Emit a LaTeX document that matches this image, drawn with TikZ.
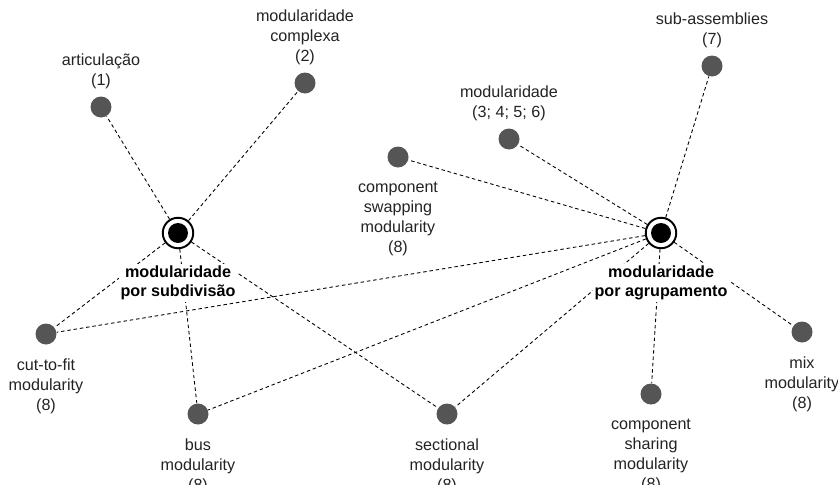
\documentclass[tikz,border=0pt]{standalone}
\usepackage{fontspec}
\setmainfont{Liberation Sans}
\usepackage{tikz}
\usetikzlibrary{positioning}
\definecolor{dotgray}{RGB}{85,85,85}
\definecolor{txtgray}{RGB}{35,35,35}

\begin{document}
\begin{tikzpicture}[x=0.02cm, y=-0.02cm,
    font=\fontsize{9.2}{11.3}\selectfont, text=txtgray,
    moddot/.style={circle, fill=dotgray, minimum size=0.42cm, inner sep=0pt},
    hubnode/.style={circle, draw=black, line width=1.1pt, fill=white, minimum size=0.61cm, inner sep=0pt,
        path picture={\fill[black] (path picture bounding box.center) circle (0.2cm);}},
    lbl/.style={align=center, inner sep=1pt},
    hublbl/.style={align=center, inner sep=1pt, fill=white, font=\fontsize{9.2}{11.3}\selectfont\bfseries, text=black},
    conn/.style={draw=black, line width=0.5pt, dash pattern=on 2pt off 1.6pt}]
\useasboundingbox (0,0) rectangle (838,484);

% hubs
\node[hubnode] (subdiv) at (178,233) {};
\node[hubnode] (agrup) at (661,233) {};

% modularity types
\node[moddot] (artic) at (101,107) {};
\node[moddot] (complexa) at (305,83) {};
\node[moddot] (swap) at (398,157) {};
\node[moddot] (mod36) at (509,139) {};
\node[moddot] (subass) at (712,66) {};
\node[moddot] (cutfit) at (46,334) {};
\node[moddot] (bus) at (198,414) {};
\node[moddot] (sectional) at (447,414) {};
\node[moddot] (sharing) at (651,394) {};
\node[moddot] (mix) at (802,332) {};

% connectors
\foreach \t in {artic, complexa, cutfit, bus, sectional}
    \path[conn] (subdiv) -- (\t);
\foreach \t in {swap, mod36, subass, cutfit, bus, sectional, sharing, mix}
    \path[conn] (agrup) -- (\t);

% labels
\node[hublbl, below=8pt of subdiv] (subdivlbl) {modularidade\\por subdivisão};
\node[hublbl, below=8pt of agrup] (agruplbl) {modularidade\\por agrupamento};
\node[lbl, above=3pt of artic] (articlbl) {articulação\\(1)};
\node[lbl, above=3pt of complexa] (complexalbl) {modularidade\\complexa\\(2)};
\node[lbl, above=3pt of mod36] (mod36lbl) {modularidade\\(3; 4; 5; 6)};
\node[lbl, above=3pt of subass] (subasslbl) {sub-assemblies\\(7)};
\node[lbl, below=7pt of swap] (swaplbl) {component\\swapping\\modularity\\(8)};
\node[lbl, below=7pt of cutfit] (cutfitlbl) {cut-to-fit\\modularity\\(8)};
\node[lbl, below=7pt of bus] (buslbl) {bus\\modularity\\(8)};
\node[lbl, below=7pt of sectional] (sectionallbl) {sectional\\modularity\\(8)};
\node[lbl, below=7pt of sharing] (sharinglbl) {component\\sharing\\modularity\\(8)};
\node[lbl, below=7pt of mix] (mixlbl) {mix\\modularity\\(8)};
\end{tikzpicture}
\end{document}
